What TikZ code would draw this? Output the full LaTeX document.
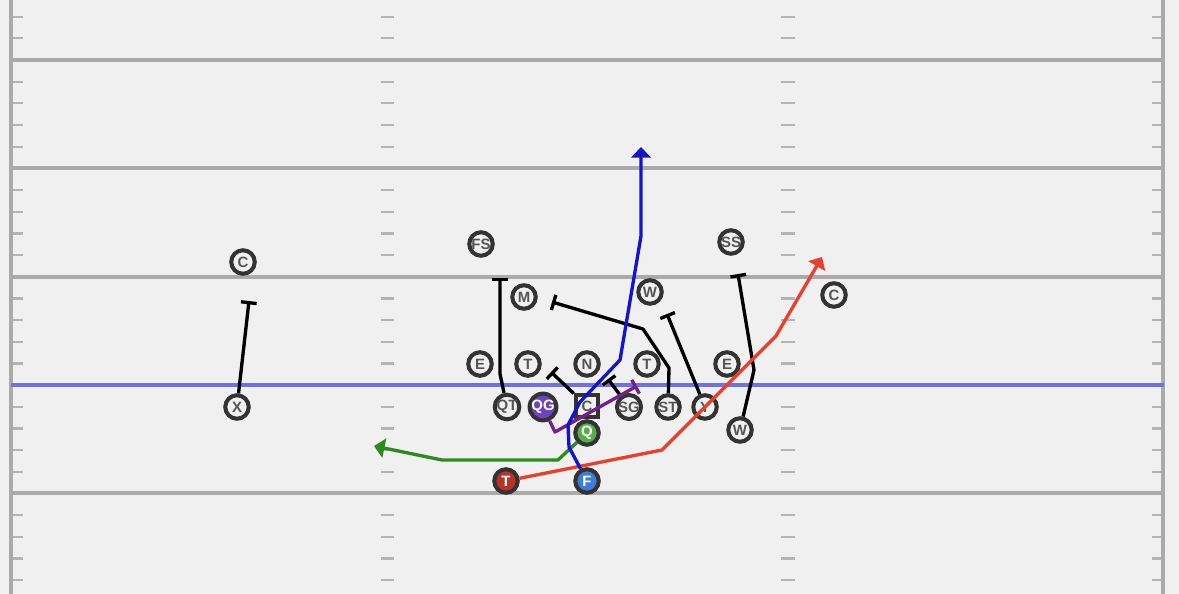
\documentclass[tikz,border=0pt]{standalone}
\usepackage{fontspec}
\setmainfont{Liberation Sans}
\usetikzlibrary{arrows.meta}
\definecolor{fieldbg}{HTML}{F0F0F0}
\definecolor{fieldline}{HTML}{AAAAAA}
\definecolor{tickc}{HTML}{B4B4B4}
\definecolor{losblue}{HTML}{7070E6}
\definecolor{ring}{HTML}{333333}
\definecolor{txt}{HTML}{555555}
\definecolor{routered}{HTML}{E5412D}
\definecolor{routeblue}{HTML}{1414CC}
\definecolor{routegreen}{HTML}{2E8A1F}
\definecolor{routepurple}{HTML}{74208C}
\definecolor{qgfill}{HTML}{6F42C1}
\definecolor{qfill}{HTML}{55AE48}
\definecolor{tfill}{HTML}{B8322A}
\definecolor{ffill}{HTML}{3C7DDB}
\tikzset{
  player/.style={circle, draw=ring, line width=2.3pt, fill=fieldbg, minimum size=0.47cm, inner sep=0pt,
    text=txt, font=\bfseries\fontsize{8.5}{8.5}\selectfont},
  centerbox/.style={rectangle, draw=ring, line width=2.3pt, fill=fieldbg, minimum size=0.45cm, inner sep=0pt,
    text=txt, font=\bfseries\fontsize{8.5}{8.5}\selectfont},
  hot/.style={text=white},
  route/.style={line width=1.9pt, line join=round},
  block/.style={route, black, -{Bar[width=9pt]}},
  runarrow/.style={route, -{Triangle[length=6pt, width=11pt]}},
  yardline/.style={fieldline, line width=2.2pt},
  hash/.style={tickc, line width=1.3pt}
}
\begin{document}
\begin{tikzpicture}[x=0.02cm, y=-0.02cm]
\useasboundingbox (0,0) rectangle (1179,594);
\fill[fieldbg] (0,0) rectangle (1179,594);
% hash marks
\foreach \k in {-2,-1,1,2,3,4,6,7,8,9,11,12,13,14,16,17,18,19,21,22,23,24}{
  \pgfmathsetmacro{\yy}{60+21.67*\k}
  \draw[hash] (13,\yy) -- (23,\yy);
  \draw[hash] (381,\yy) -- (394,\yy);
  \draw[hash] (781,\yy) -- (795,\yy);
  \draw[hash] (1152,\yy) -- (1162,\yy);
}
% yard lines
\foreach \yy in {60,168.3,276.7,385,493.3}{
  \draw[yardline] (11,\yy) -- (1163,\yy);
}
\draw[yardline] (11,0) -- (11,594);
\draw[yardline] (1163,0) -- (1163,594);
% line of scrimmage
\draw[losblue, line width=2.2pt] (11,385) -- (1164,385);

% defense
\node[player] (CBL) at (243,262) {C};
\node[player] (FS) at (481,244) {FS};
\node[player] (SS) at (731,242) {SS};
\node[player] (M) at (524,297) {M};
\node[player] (WLB) at (650,292) {W};
\node[player] (CBR) at (834,295) {C};
\node[player] (EL) at (480,364) {E};
\node[player] (TL) at (528,364) {T};
\node[player] (N) at (587,364) {N};
\node[player] (TR) at (647,364) {T};
\node[player] (ER) at (727,364) {E};
% offense
\node[player] (X) at (237,407) {X};
\node[player] (QT) at (507,407) {QT};
\node[player, fill=qgfill, hot] (QG) at (543,407) {QG};
\node[centerbox] (C) at (587,406) {C};
\node[player] (SG) at (629,407) {SG};
\node[player] (ST) at (668,407) {ST};
\node[player] (Y) at (705,407) {Y};
\node[player] (W) at (740,430) {W};
\node[player, fill=qfill, hot] (Q) at (587,433) {Q};
\node[player, fill=tfill, hot] (T) at (506,481) {T};
\node[player, fill=ffill, hot] (F) at (587,481) {F};

% route waypoints
\coordinate (xend) at (249,301);
\coordinate (qt1) at (500,374);
\coordinate (qtend) at (500,278);
\coordinate (cend) at (551,372);
\coordinate (sgend) at (608,379);
\coordinate (st1) at (669,368);
\coordinate (st2) at (643,329);
\coordinate (stend) at (552,302);
\coordinate (yend) at (667,314);
\coordinate (w1) at (754,370);
\coordinate (wend) at (738,274);
\coordinate (qg1) at (555,432);
\coordinate (qgend) at (637,386);
\coordinate (t1) at (662,450);
\coordinate (t2) at (776,336);
\coordinate (tend) at (822,257);
\coordinate (f1) at (569,447);
\coordinate (f2) at (568,425);
\coordinate (f3) at (580,402);
\coordinate (f4) at (620,360);
\coordinate (f5) at (641,236);
\coordinate (fend) at (641,147);
\coordinate (q1) at (558,460);
\coordinate (q2) at (442,460);
\coordinate (qend) at (374,446);

% blocking routes
\draw[block] (X) -- (xend);
\draw[block] (QT) -- (qt1) -- (qtend);
\draw[block] (C) -- (cend);
\draw[block] (SG) -- (sgend);
\draw[block] (ST) -- (st1) -- (st2) -- (stend);
\draw[block] (Y) -- (yend);
\draw[block] (W) -- (w1) -- (wend);
\draw[route, routepurple, -{Bar[width=9pt]}] (QG) -- (qg1) -- (qgend);
% running routes
\draw[runarrow, routegreen] (Q) -- (q1) -- (q2) -- (qend);
\draw[runarrow, routered] (T) -- (t1) -- (t2) -- (tend);
\draw[runarrow, routeblue] (F) -- (f1) -- (f2) -- (f3) -- (f4) -- (f5) -- (fend);
\end{tikzpicture}
\end{document}
